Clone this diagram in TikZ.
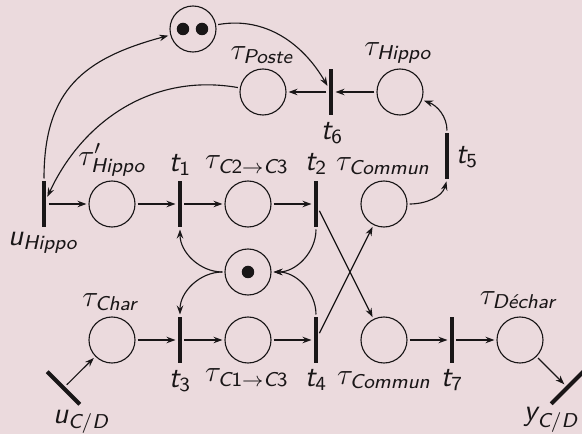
\documentclass[tikz,border=0pt]{standalone}
\usepackage{amsmath}
\usepackage{fontspec}
\usetikzlibrary{arrows.meta}
\definecolor{bgc}{RGB}{235,218,221}
\definecolor{ink}{RGB}{25,22,23}
\newcommand\sv[1]{\textsf{\itshape #1}}
\newcommand\sd[1]{\textsf{#1}}
\begin{document}
\begin{tikzpicture}[x=0.4pt,y=0.4pt,
  font=\fontsize{12}{14}\selectfont,
  place/.style={draw=ink,circle,line width=0.45pt,minimum size=18.4pt,inner sep=0pt},
  trans/.style={fill=ink,rectangle,minimum width=1.6pt,minimum height=18.4pt,inner sep=0pt},
  arr/.style={draw=ink,-{Stealth[length=3.6pt,width=2.6pt,inset=1.2pt]},line width=0.45pt,shorten >=0.8pt,shorten <=0.8pt},
  lbl/.style={inner sep=0pt,text=ink}]
\fill[bgc] (0,0) rectangle (582,434);
\useasboundingbox (0,0) rectangle (582,434);
% places
\node[place] (top) at (193,405) {};
\node[place] (poste) at (263,342) {};
\node[place] (hippo) at (400,342) {};
\node[place] (hp) at (112,230) {};
\node[place] (c23) at (248,230) {};
\node[place] (cu) at (384,230) {};
\node[place] (mid) at (248,162) {};
\node[place] (char) at (112,94) {};
\node[place] (c13) at (248,94) {};
\node[place] (cl) at (384,94) {};
\node[place] (dech) at (520,94) {};
% tokens
\fill[ink] (183,405) circle[radius=2.5pt];
\fill[ink] (202,405) circle[radius=2.5pt];
\fill[ink] (248,162) circle[radius=2.5pt];
% transitions
\node[trans] (t6) at (331,342) {};
\node[trans] (t5) at (447,278) {};
\node[trans] (uH) at (44,230) {};
\node[trans] (t1) at (180,230) {};
\node[trans] (t2) at (316,230) {};
\node[trans] (t3) at (180,94) {};
\node[trans] (t4) at (316,94) {};
\node[trans] (t7) at (452,94) {};
\node[trans,rotate=45] (uCD) at (63.5,46) {};
\node[trans,rotate=-45] (yCD) at (567.5,46.5) {};
% labels
\node[lbl] (lposte) at (262,379) {$\tau_{\sv{Poste}}$};
\node[lbl] (lhippo) at (398,381) {$\tau_{\sv{Hippo}}$};
\node[lbl] (lt6) at (332,301) {$\sv{t}_{\sd{6}}$};
\node[lbl] (lt5) at (467,277) {$\sv{t}_{\sd{5}}$};
\node[lbl] (lcu) at (383,268) {$\tau_{\sv{Commun}}$};
\node[lbl] (lt2) at (316,270) {$\sv{t}_{\sd{2}}$};
\node[lbl] (lhp) at (112,274) {$\tau'_{\sv{Hippo}}$};
\node[lbl] (lt1) at (180,269) {$\sv{t}_{\sd{1}}$};
\node[lbl] (lc23) at (247,269) {$\tau_{\sv{C}\sd{2}\rightarrow\sv{C}\sd{3}}$};
\node[lbl] (luH) at (43,191) {$\sv{u}_{\sv{Hippo}}$};
\node[lbl] (lchar) at (110,132) {$\tau_{\sv{Char}}$};
\node[lbl] (lt3) at (180,53) {$\sv{t}_{\sd{3}}$};
\node[lbl] (lc13) at (247,56) {$\tau_{\sv{C}\sd{1}\rightarrow\sv{C}\sd{3}}$};
\node[lbl] (luCD) at (81,12) {$\sv{u}_{\sv{C}/\sv{D}}$};
\node[lbl] (lt4) at (316,54) {$\sv{t}_{\sd{4}}$};
\node[lbl] (lcl) at (384,54) {$\tau_{\sv{Commun}}$};
\node[lbl] (lt7) at (452,54) {$\sv{t}_{\sd{7}}$};
\node[lbl] (ldech) at (518,134) {$\tau_{\sv{Déchar}}$};
\node[lbl] (lyCD) at (551,14) {$\sv{y}_{\sv{C}/\sv{D}}$};
% straight arcs
\draw[arr] (hippo) -- (t6);
\draw[arr] (t6) -- (poste);
\draw[arr] (uH) -- (hp);
\draw[arr] (hp) -- (t1);
\draw[arr] (t1) -- (c23);
\draw[arr] (c23) -- (t2);
\draw[arr] (t2) -- (cl);
\draw[arr] (t4) -- (cu);
\draw[arr] (char) -- (t3);
\draw[arr] (t3) -- (c13);
\draw[arr] (c13) -- (t4);
\draw[arr] (cl) -- (t7);
\draw[arr] (t7) -- (dech);
\draw[arr] (uCD) -- (char);
\draw[arr] (dech) -- (yCD);
% curved arcs
\draw[arr] (uH.north) to[out=90,in=195,looseness=1.2] (top);
\draw[arr] (top) to[out=10,in=120] (t6);
\draw[arr] (poste) to[out=170,in=65] (uH);
\draw[arr] (cu) to[out=0,in=255] (t5.south);
\draw[arr] (t5.north) to[out=90,in=-20] (hippo);
\draw[arr] (mid) to[out=180,in=270] (t1.south);
\draw[arr] (mid) to[out=180,in=90] (t3.north);
\draw[arr] (t2.south) to[out=270,in=0] (mid);
\draw[arr] (t4.north) to[out=90,in=0] (mid);
\end{tikzpicture}
\end{document}
